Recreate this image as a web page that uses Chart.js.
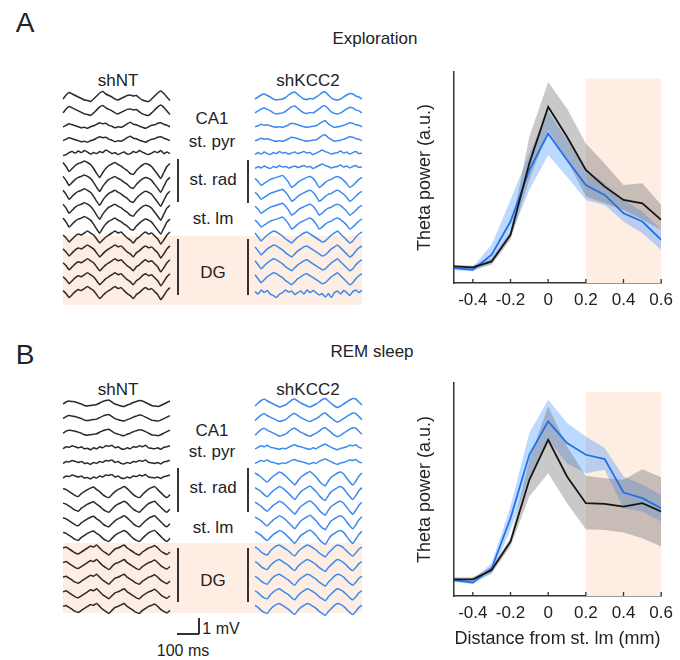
<!DOCTYPE html>
<html>
<head>
<meta charset="utf-8">
<script src="https://cdn.jsdelivr.net/npm/chart.js@4.4.1/dist/chart.umd.min.js"></script>
<style>
body { margin: 0; background: #fff; font-family: "Liberation Sans", Arial, sans-serif; color: #222; }
#fig { position: relative; width: 680px; height: 660px; overflow: hidden; }
#fig canvas { position: absolute; }
.t { position: absolute; white-space: nowrap; transform: translate(-50%, -50%); font-size: 17px; line-height: 1; }
.bar { position: absolute; width: 2px; background: #333; }
.peach { position: absolute; background: #fdede2; }
</style>
</head>
<body>
<div id="fig">
  <div class="peach" style="left:63px;top:236px;width:299px;height:69px"></div>
  <div class="peach" style="left:63px;top:543px;width:299px;height:70px"></div>

  <div class="t" style="left:25px;top:23px;font-size:28px">A</div>
  <div class="t" style="left:25px;top:355px;font-size:28px">B</div>
  <div class="t" style="left:375px;top:38px">Exploration</div>
  <div class="t" style="left:372px;top:351px">REM sleep</div>

  <!-- panel A labels -->
  <div class="t" style="left:118px;top:80px">shNT</div>
  <div class="t" style="left:308px;top:80px">shKCC2</div>
  <div class="t" style="left:212px;top:118px">CA1</div>
  <div class="t" style="left:212px;top:141px">st. pyr</div>
  <div class="t" style="left:213px;top:179px">st. rad</div>
  <div class="t" style="left:213px;top:218px">st. lm</div>
  <div class="t" style="left:213px;top:272px">DG</div>
  <div class="bar" style="left:177px;top:159px;height:43px"></div>
  <div class="bar" style="left:247px;top:160px;height:43px"></div>
  <div class="bar" style="left:177px;top:239px;height:56px"></div>
  <div class="bar" style="left:247px;top:239px;height:56px"></div>

  <!-- panel B labels -->
  <div class="t" style="left:118px;top:389px">shNT</div>
  <div class="t" style="left:308px;top:389px">shKCC2</div>
  <div class="t" style="left:212px;top:430px">CA1</div>
  <div class="t" style="left:212px;top:451px">st. pyr</div>
  <div class="t" style="left:213px;top:487px">st. rad</div>
  <div class="t" style="left:213px;top:527px">st. lm</div>
  <div class="t" style="left:213px;top:580px">DG</div>
  <div class="bar" style="left:177px;top:468px;height:44px"></div>
  <div class="bar" style="left:247px;top:468px;height:44px"></div>
  <div class="bar" style="left:177px;top:548px;height:54px"></div>
  <div class="bar" style="left:247px;top:548px;height:54px"></div>

  <!-- scale bar -->
  <div style="position:absolute;left:177px;top:633px;width:22px;height:1.5px;background:#333"></div>
  <div style="position:absolute;left:198px;top:618px;width:1.5px;height:16px;background:#333"></div>
  <div class="t" style="left:221px;top:629px;font-size:16px">1 mV</div>
  <div class="t" style="left:183px;top:651px;font-size:16px">100 ms</div>

  <canvas id="trAnt" width="113" height="224" style="left:60px;top:84px"></canvas>
  <canvas id="trAkc" width="113" height="224" style="left:252px;top:84px"></canvas>
  <canvas id="trBnt" width="113" height="232" style="left:60px;top:390px"></canvas>
  <canvas id="trBkc" width="113" height="232" style="left:252px;top:390px"></canvas>
  <canvas id="thetaA" width="275" height="250" style="left:405px;top:62px"></canvas>
  <canvas id="thetaB" width="275" height="285" style="left:405px;top:372px"></canvas>
</div>

<script>
// theta power vs distance from st. lm
var distance = [-0.5, -0.4, -0.3, -0.2, -0.1, 0, 0.1, 0.2, 0.3, 0.4, 0.5, 0.6];
var tickVals = [-0.4, -0.2, 0, 0.2, 0.4, 0.6];

var explNT    = [0.50, 0.47, 0.65, 1.45, 3.6, 5.3, 4.4, 3.4, 2.9, 2.5, 2.4, 1.9];
var explNTHi  = [0.55, 0.52, 0.75, 1.55, 4.4, 6.05, 5.25, 4.2, 3.6, 2.95, 3.0, 2.35];
var explNTLo  = [0.42, 0.40, 0.55, 1.30, 3.1, 4.6, 3.7, 2.6, 2.4, 2.2, 1.9, 1.6];
var explKCC   = [0.45, 0.40, 0.85, 1.85, 3.4, 4.5, 3.7, 2.95, 2.65, 2.1, 1.85, 1.3];
var explKCCHi = [0.52, 0.48, 1.15, 2.5, 3.9, 5.15, 4.3, 3.4, 3.0, 2.5, 2.15, 1.6];
var explKCCLo = [0.38, 0.35, 0.6, 1.4, 2.8, 3.85, 3.2, 2.5, 2.35, 1.85, 1.5, 1.0];

var remNT    = [0.5, 0.5, 0.78, 1.63, 3.48, 4.68, 3.58, 2.78, 2.76, 2.68, 2.78, 2.53];
var remNTHi  = [0.56, 0.56, 0.88, 1.73, 4.08, 5.68, 4.48, 3.6, 3.53, 3.48, 3.8, 3.56];
var remNTLo  = [0.43, 0.43, 0.68, 1.48, 2.98, 3.68, 2.78, 2.0, 1.98, 1.9, 1.73, 1.48];
var remKCC   = [0.48, 0.40, 0.83, 2.33, 4.23, 5.23, 4.58, 4.23, 4.1, 3.1, 2.93, 2.63];
var remKCCHi = [0.53, 0.48, 0.98, 2.68, 4.88, 5.88, 5.18, 4.78, 4.43, 3.58, 3.33, 3.03];
var remKCCLo = [0.42, 0.35, 0.68, 1.98, 3.58, 4.68, 3.98, 3.68, 3.78, 2.63, 2.53, 2.23];

// example LFP traces (36 samples, ~500 ms), one array per layer shape
var aNtPyr1 = [-1, 3, 5.5, 4, 2.5, 1, -0.5, -2, -2.5, -3.5, -1, 2, 5, 6.5, 4, 2.5, 1, -1, -2, -0.5, 1, 2.5, 3, 2, 2.5, 0, -2, -3, -3.5, -1, 2, 5, 7, 4.5, 1, -2.5];
var aNtPyr2 = [-1, 0.5, 2, 1, 0, -1, -2, -1.5, -2.5, -1, 0, 1.5, 3, 2, 2.5, 0.5, -0.5, -2, -1, -1.5, 0, 2, 3.5, 1.5, 1, -0.5, -1.5, -2.5, -1, 0.5, 1, 2.5, 3, 1.5, 0.5, -1];
var aNtMid  = [-2, -1, 1, 2, 0.5, 2.5, 1, 3, 1.5, -0.5, 1, 0, 2, 1, 3.5, 2, 0, 1, -1, 0.5, 1.5, -0.5, 0, 2, 1, 3, 1.5, 0, -1, 0.5, 2, 1, 3, 0, 1.5, 0];
var aNtRad  = [5, 1, -4, -1, 2, 4, 5, 6.5, 5, 3, -1, -6, -10, -5, -1, 2, 3.5, 5, 3, 1.5, -1, -3, -6, -7, -3, 0, 2.5, 4, 3, 1, -3, -7, -11, -5, 1, 4];
var aNtDg   = [2, -1, -5, -2, 1, 3, 2, 4, 6, 4, 2, -2, -6, -3, 0, 2, 4, 6, 4, 5, 2, -1, -3, -6, -2, 0, 3, 5, 3, 4, 1, -2, -7, -3, 2, 5];

var aKcPyr1 = [-1, 1, 3, 4, 2.5, 1, -1, -2, -1.5, -1, 0.5, 3, 5, 6, 3.5, 1, -1, -1.5, -0.5, -1, 1, 3, 5.5, 6, 3, 0, -1.5, -2, -1, 1, 3, 4.5, 4, 2, 1, -1];
var aKcPyr2 = [-1, 0, 1.5, 0.5, 1, 0, -1, -1.5, -1, -1.5, -0.5, 1, 2.5, 2, 1, 0, -1, -1.5, -1, -0.5, 0, 2, 4, 5, 2, 0, -1.5, -1, -0.5, 0.5, 1.5, 3, 2.5, 1, 0.5, -1];
var aKcMid  = [-1, 1, -0.5, 1.5, 0, -1, 1, 0, 2, 0.5, 1, -0.5, 0.5, 1.5, 0, 1, 2, 0.5, 1, -1, 0.5, 2, 3.5, 2, 1, -0.5, 0.5, 1, 2.5, 0.5, 1.5, -0.5, 1, 2, 0, 0.5];
var aKcRad  = [3, 0, -4, -2, 0, 2, 3, 4, 5, 6, 3, -1, -6, -4, -1, 1, 2.5, 4, 5, 3, -1, -6, -4, -1, 1, 2, 4, 5, 3.5, 1, -2, -6, -4, -1, 2, 4];
var aKcDg   = [4, 0, -4, -1, 2, 4, 6, 5, 3, 1, -2, -4, -6, -3, 0, 2, 4, 5, 3, 1, -1, -3, -5, -4, -1, 2, 4, 6, 3, 0, -3, -6, -4, 0, 3, 5];
var aKcDg2  = [1, -1.5, 2.5, 0, 2, -1.5, -3, -5, -1.5, 0, 2.5, 0.5, 1.5, -2, 0, 1.5, -1.5, 2.5, 0, 2, 0, -2.5, -1, -4.5, -1, -5, 0, 1.5, -1.5, 2, 0, -3, 1, 2.5, 0, 2.5];

var bNtPyr1 = [0, 2, 3, 2.5, 2, 1, 0, -1.5, -2, -1.5, -1, -0.5, 1, 2.5, 3.5, 4, 2, 0, -1, -2, -2.5, -1, 0, 1.5, 2.5, 3.5, 3, 1.5, 0, -1.5, -2, -2.5, -1.5, 0, 1.5, 3];
var bNtPyr2 = [-1, 1, 0.5, 2, 1, 0, 1, -1, -0.5, -2, 0, -1, 1, 0, 2, 1.5, 2.5, 0, 1, -1, -1.5, 0, -1, 1, 0.5, 2, 1, 2.5, 0, -0.5, -1, 0, -1.5, 0.5, 1, 2];
var bNtRad  = [3, 2, 0, -2, -4, -5, -2, 0, 2, 3.5, 4.5, 2, 0, -3, -5, -6, -3, 0, 2, 3.5, 5, 3, 0, -3, -5, -6, -3, 0, 2.5, 4, 5, 2, -1, -4, -6, -3];
var bNtDg   = [2, 3, 1, -1, -3, -4, -2, 0, 2, 4, 3, 5, 2, -1, -3, -5, -2, 1, 2, 3.5, 5, 2, 0, -2, -4, -5, -2, 0, 2, 3, 4.5, 2, -1, -3, -4.5, -2];

var bKcPyr1 = [-2, 1, 3.5, 5, 3, 1.5, 0, -1.5, -3, -2, -1, 1.5, 4, 5, 3, 1, -0.5, -2, -3, -1.5, 0, 2, 4.5, 5.5, 3, 0.5, -2, -3.5, -2, 0, 2, 4, 5.5, 5, 2, -1];
var bKcPyr2 = [-1, 0.5, 2, 1, 2.5, 0.5, 0, -1, -1.5, -0.5, -1, 0.5, 2, 3, 1.5, 1, 0, -1, -1.5, 0, -1, 1, 2.5, 3.5, 2, 0.5, -1, -2, -0.5, 0, 1, 2.5, 2, 3, 0.5, -0.5];
var bKcRad  = [4, 2, 0, -3, -5, -2, 1, 3, 5, 3.5, 1, -2, -5, -8, -4, 0, 2, 4, 5.5, 3, 0, -4, -7, -9, -4, 0, 2, 4, 5, 3, -1, -5, -8, -4, 1, 4];
var bKcDg   = [3, 1, -2, -4, -5, -1, 2, 4, 5, 3, 1, -1, -4, -6, -2, 1, 3, 5, 4, 2, 0, -3, -5, -7, -3, 0, 3, 5, 4, 2, -1, -4, -6, -3, 1, 3];

// which shape sits on each of the 15 channels, top to bottom
var stackAnt = [aNtPyr1, aNtPyr1, aNtPyr2, aNtPyr2, aNtMid, aNtRad, aNtRad, aNtRad, aNtRad, aNtRad, aNtDg, aNtDg, aNtDg, aNtDg, aNtDg];
var stackAkc = [aKcPyr1, aKcPyr1, aKcPyr2, aKcPyr2, aKcMid, aKcMid, aKcRad, aKcRad, aKcRad, aKcRad, aKcDg, aKcDg, aKcDg, aKcDg, aKcDg2];
var stackBnt = [bNtPyr1, bNtPyr1, bNtPyr1, bNtPyr2, bNtPyr2, bNtPyr2, bNtRad, bNtRad, bNtRad, bNtRad, bNtDg, bNtDg, bNtDg, bNtDg, bNtDg];
var stackBkc = [bKcPyr1, bKcPyr1, bKcPyr1, bKcPyr2, bKcPyr2, bKcRad, bKcRad, bKcRad, bKcRad, bKcRad, bKcDg, bKcDg, bKcDg, bKcDg, bKcDg];

var NT_BLACK = '#151515';
var KCC_BLUE = '#1f72ea';
var PEACH = '#fdede2';

function traceChart(id, stack, color, gap, yMin) {
    var datasets = stack.map(function(wave, i) {
        return {
            data: wave.map(function(v, j) { return {x: j, y: v - gap * i}; }),
            borderColor: color,
            borderWidth: 1.5,
            pointRadius: 0,
            tension: 0.12,
            fill: false
        };
    });
    new Chart(document.getElementById(id), {
        type: 'line',
        data: {datasets: datasets},
        options: {
            responsive: false, animation: false, events: [],
            layout: {padding: 0},
            plugins: {legend: {display: false}, tooltip: {enabled: false}},
            scales: {
                x: {type: 'linear', display: false, min: -1, max: 36},
                y: {display: false, min: yMin, max: 14}
            }
        }
    });
}

traceChart('trAnt', stackAnt, '#2a2a2a', 13.9, -210);
traceChart('trAkc', stackAkc, '#3a8af2', 13.9, -210);
traceChart('trBnt', stackBnt, '#2a2a2a', 14.6, -218);
traceChart('trBkc', stackBkc, '#3a8af2', 14.6, -218);

// peach shading for DG range, drawn below the data
var peachZone = {
    id: 'peachZone',
    beforeDatasetsDraw: function(chart, args, opts) {
        var ctx = chart.ctx, area = chart.chartArea;
        var x0 = chart.scales.x.getPixelForValue(opts.from);
        var x1 = chart.scales.x.getPixelForValue(opts.to);
        var y0 = chart.scales.y.getPixelForValue(opts.top);
        ctx.save();
        ctx.fillStyle = PEACH;
        ctx.fillRect(x0, y0, x1 - x0, area.bottom - y0);
        ctx.restore();
    }
};

// small inward tick marks on the x axis
var inTicks = {
    id: 'inTicks',
    afterDatasetsDraw: function(chart) {
        var ctx = chart.ctx, area = chart.chartArea, xs = chart.scales.x;
        ctx.save();
        ctx.strokeStyle = '#333';
        ctx.lineWidth = 1.3;
        tickVals.forEach(function(v) {
            var px = xs.getPixelForValue(v);
            ctx.beginPath();
            ctx.moveTo(px, area.bottom);
            ctx.lineTo(px, area.bottom - 4);
            ctx.stroke();
        });
        ctx.restore();
    }
};

function pts(ys) {
    return ys.map(function(v, i) { return {x: distance[i], y: v}; });
}

function thetaChart(id, nt, ntHi, ntLo, kcc, kccHi, kccLo, yMax, peachTop, padTop, xAxisH, xTitle) {
    new Chart(document.getElementById(id), {
        type: 'line',
        data: {
            datasets: [
                {data: pts(nt), borderColor: NT_BLACK, borderWidth: 1.8, pointRadius: 0, fill: false, order: 0},
                {data: pts(kcc), borderColor: KCC_BLUE, borderWidth: 1.8, pointRadius: 0, fill: false, order: 1},
                {data: pts(ntHi), borderWidth: 0, pointRadius: 0, fill: '+1', backgroundColor: 'rgba(105,105,105,0.36)', order: 3},
                {data: pts(ntLo), borderWidth: 0, pointRadius: 0, fill: false, order: 3},
                {data: pts(kccHi), borderWidth: 0, pointRadius: 0, fill: '+1', backgroundColor: 'rgba(70,150,255,0.36)', order: 4},
                {data: pts(kccLo), borderWidth: 0, pointRadius: 0, fill: false, order: 4}
            ]
        },
        options: {
            responsive: false, animation: false, events: [],
            layout: {padding: {top: padTop, right: 12, left: 0, bottom: 0}},
            plugins: {
                legend: {display: false},
                tooltip: {enabled: false},
                peachZone: {from: 0.2, to: 0.6, top: peachTop}
            },
            scales: {
                x: {
                    type: 'linear', min: -0.5, max: 0.6,
                    grid: {display: false, drawTicks: false},
                    border: {color: '#333', width: 1.5},
                    afterBuildTicks: function(s) { s.ticks = tickVals.map(function(v) { return {value: v}; }); },
                    afterFit: function(s) { s.height = xAxisH; },
                    ticks: {
                        padding: 7, color: '#222', maxRotation: 0, autoSkip: false,
                        font: {size: 17, family: '"Liberation Sans", Arial, sans-serif'},
                        callback: function(v) { return v === 0 ? '0' : v.toFixed(1); }
                    },
                    title: {
                        display: !!xTitle, text: xTitle, color: '#222',
                        font: {size: 18, family: '"Liberation Sans", Arial, sans-serif'},
                        padding: {top: 0, bottom: 7}
                    }
                },
                y: {
                    min: 0, max: yMax,
                    grid: {display: false, drawTicks: false},
                    border: {color: '#333', width: 1.5},
                    ticks: {display: false},
                    afterFit: function(s) { s.width = 49; },
                    title: {
                        display: true, text: 'Theta power (a.u.)', color: '#222',
                        font: {size: 18, family: '"Liberation Sans", Arial, sans-serif'},
                        padding: {top: 9, bottom: 0}
                    }
                }
            }
        },
        plugins: [peachZone, inTicks]
    });
}

thetaChart('thetaA', explNT, explNTHi, explNTLo, explKCC, explKCCHi, explKCCLo, 6.35, 6.15, 10, 29, '');
thetaChart('thetaB', remNT, remNTHi, remNTLo, remKCC, remKCCHi, remKCCLo, 6.38, 6.1, 11, 61, 'Distance from st. lm (mm)');
</script>
</body>
</html>
